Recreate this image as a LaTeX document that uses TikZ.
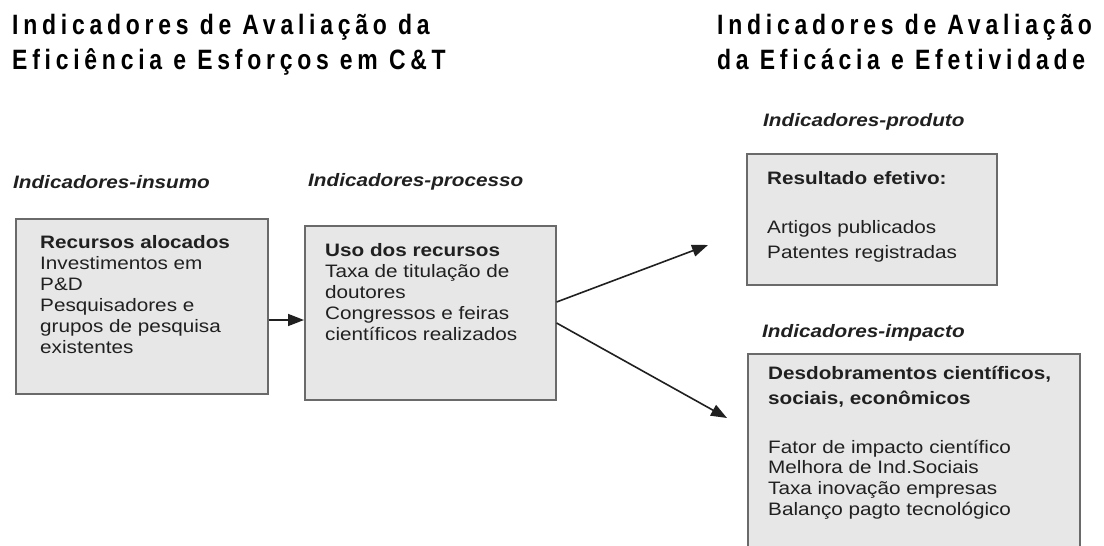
\documentclass[tikz,border=0pt]{standalone}
\usepackage{fontspec}
\setmainfont{Liberation Sans}[FakeStretch=1.15]
\newfontfamily\titlefont{Liberation Sans}[FakeStretch=0.82,LetterSpace=17]
\usetikzlibrary{arrows.meta}
\definecolor{boxfill}{HTML}{E7E7E7}
\definecolor{boxline}{HTML}{6A6A6A}
\definecolor{ink}{HTML}{202020}
\tikzset{
  panel/.style={draw=boxline, line width=1.6pt, fill=boxfill, inner sep=0pt, anchor=north west},
  body/.style={anchor=north west, inner sep=0pt, align=left, text=ink, font=\fontsize{18}{21}\selectfont},
  cat/.style={anchor=west, inner sep=0pt, text=ink, font=\fontsize{18}{21}\selectfont\bfseries\itshape},
  heading/.style={anchor=base west, inner sep=0pt, align=left, text=black, font=\titlefont\bfseries\fontsize{28}{35}\selectfont},
  flow/.style={draw=ink, line width=1.6pt, -{Triangle[length=16pt,width=12pt]}}
}
\begin{document}
\begin{tikzpicture}[x=1pt,y=-1pt]
\useasboundingbox (0,0) rectangle (1104,546);
\clip (0,0) rectangle (1104,546);
\fill[white] (0,0) rectangle (1104,546);

% titles (anchor = baseline of the last line)
\node[heading] (h1) at (12,69) {Indicadores de Avaliação da\\Eficiência e Esforços em C\&T};
\node[heading] (h2) at (717,69) {Indicadores de Avaliação\\da Eficácia e Efetividade};

% category labels
\node[cat] (c1) at (13,182) {Indicadores-insumo};
\node[cat] (c2) at (308,182) {Indicadores-processo};
\node[cat] (c3) at (763,122) {Indicadores-produto};
\node[cat] (c4) at (762,333) {Indicadores-impacto};

% boxes
\node[panel, minimum width=252pt, minimum height=175pt] (b1) at (15,218) {};
\node[panel, minimum width=251pt, minimum height=174pt] (b2) at (304,225) {};
\node[panel, minimum width=250pt, minimum height=131pt] (b3) at (746,153) {};
\node[panel, minimum width=332pt, minimum height=230pt] (b4) at (747,353) {};

% box texts
\node[body] (t1) at (40,235.5) {\textbf{Recursos alocados}\\Investimentos em\\P\&D\\Pesquisadores e\\grupos de pesquisa\\existentes};
\node[body] (t2) at (325,243.5) {\textbf{Uso dos recursos}\\Taxa de titulação de\\doutores\\Congressos e feiras\\científicos realizados};
\node[body] (t3) at (767,171.5) {\textbf{Resultado efetivo:}\\[28pt]Artigos publicados\\[4pt]Patentes registradas};
\node[body] (t4) at (768,366.5) {\textbf{Desdobramentos científicos,}\\[4pt]\textbf{sociais, econômicos}\\[28pt]Fator de impacto científico\\[-1pt]Melhora de Ind.Sociais\\Taxa inovação empresas\\Balanço pagto tecnológico};

% arrow end points
\coordinate (p3) at (708,245);
\coordinate (p4) at (727,418);

% connectors
\draw[flow] (b1.east |- 0,320) -- (b2.west |- 0,320);
\draw[flow] (b2.east |- 0,302) -- (p3);
\draw[flow] (b2.east |- 0,323) -- (p4);
\end{tikzpicture}
\end{document}
